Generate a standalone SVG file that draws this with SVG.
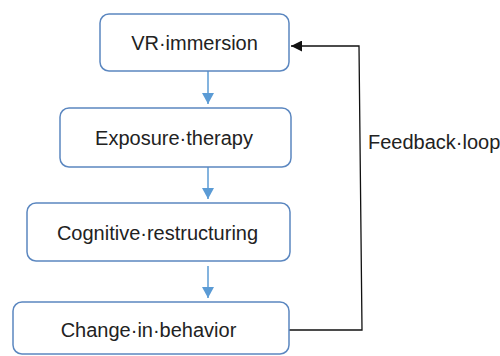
<svg xmlns="http://www.w3.org/2000/svg" width="500" height="356" viewBox="0 0 500 356">
<style>
.box{fill:#fff;stroke:#5b87c0;stroke-width:1.5}
.t{font-family:"Liberation Sans",Arial,sans-serif;font-size:20px;fill:#222;text-anchor:middle}
.lbl{font-family:"Liberation Sans",Arial,sans-serif;font-size:20px;fill:#222}
.flow{stroke:#5b9bd5;stroke-width:1.5;fill:none}
.fb{stroke:#111;stroke-width:1.3;fill:none}
</style>
<defs>
<marker id="ab" markerUnits="userSpaceOnUse" markerWidth="12" markerHeight="12" refX="11" refY="6" orient="auto">
<path d="M0,0 L11,6 L0,12 Z" fill="#5b9bd5"/>
</marker>
<marker id="ak" markerUnits="userSpaceOnUse" markerWidth="12" markerHeight="11" refX="11" refY="5.5" orient="auto">
<path d="M0,0 L11,5.5 L0,11 Z" fill="#111"/>
</marker>
</defs>
<rect width="500" height="356" fill="#fff"/>
<g id="connectors">
<line class="flow" x1="208" y1="71" x2="208" y2="104" marker-end="url(#ab)"/>
<line class="flow" x1="208" y1="167" x2="208" y2="199" marker-end="url(#ab)"/>
<line class="flow" x1="208" y1="266" x2="208" y2="298" marker-end="url(#ab)"/>
<polyline class="fb" points="289,330 362,330 359,46 291,46" marker-end="url(#ak)"/>
<text class="lbl" x="368" y="149">Feedback·loop</text>
</g>
<g id="n1">
<rect class="box" x="100" y="14" width="189" height="57" rx="9"/>
<text class="t" x="194.5" y="50">VR·immersion</text>
</g>
<g id="n2">
<rect class="box" x="60" y="108" width="231" height="59" rx="9"/>
<text class="t" x="174" y="145">Exposure·therapy</text>
</g>
<g id="n3">
<rect class="box" x="27" y="203" width="263" height="58" rx="9"/>
<text class="t" x="157.5" y="240">Cognitive·restructuring</text>
</g>
<g id="n4">
<rect class="box" x="13" y="302" width="276" height="52" rx="9"/>
<text class="t" x="148.5" y="337">Change·in·behavior</text>
</g>
</svg>
